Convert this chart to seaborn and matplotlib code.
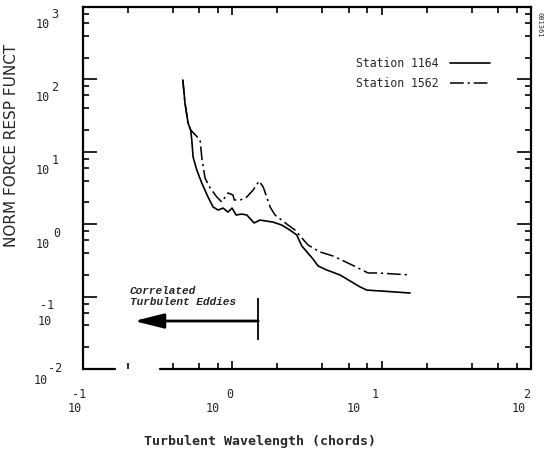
import numpy as np
import pandas as pd
import matplotlib
matplotlib.use('Agg')
import matplotlib.pyplot as plt
import seaborn as sns
from matplotlib.ticker import LogLocator, NullFormatter, FixedLocator

# data
wl_1164 = [0.466, 0.482, 0.505, 0.526, 0.535, 0.546, 0.578, 0.624, 0.687, 0.743,
           0.802, 0.867, 0.935, 0.995, 1.06, 1.156, 1.25, 1.40, 1.53, 1.87,
           2.14, 2.43, 2.70, 2.92, 3.47, 3.75, 4.29, 5.26, 7.17, 7.95, 10.2, 15.5]
resp_1164 = [98, 47.2, 25.0, 20.0, 14.6, 8.47, 5.61, 3.71, 2.38, 1.73,
             1.57, 1.67, 1.47, 1.67, 1.34, 1.38, 1.34, 1.04, 1.14, 1.07,
             0.975, 0.83, 0.71, 0.50, 0.33, 0.265, 0.233, 0.199, 0.136, 0.123, 0.119, 0.112]

wl_1562 = [0.466, 0.482, 0.505, 0.526, 0.608, 0.624, 0.656, 0.710, 0.787, 0.849,
           0.935, 1.01, 1.03, 1.13, 1.25, 1.38, 1.51, 1.61, 1.79, 1.93,
           2.14, 2.36, 2.63, 3.21, 3.87, 4.72, 6.34, 8.11, 9.46, 15.5]
resp_1562 = [98, 47.2, 25.0, 20.0, 14.6, 8.47, 4.35, 3.16, 2.38, 2.03,
             2.70, 2.53, 2.16, 2.16, 2.38, 2.97, 3.95, 3.26, 1.73, 1.34,
             1.14, 0.975, 0.83, 0.516, 0.413, 0.364, 0.273, 0.212, 0.212, 0.199]

x_exps = ['-1', '0', '1', '2']
y_exps = ['-2', '-1', '0', '1', '2', '3']

sns.set_style('ticks')
plt.rcParams['font.family'] = ['DejaVu Sans']

W, H = 548, 451
fig, ax = plt.subplots(figsize=(W / 100, H / 100), dpi=100)
fig.subplots_adjust(left=83 / W, right=531 / W, bottom=1 - 369 / H, top=1 - 7 / H)

sns.lineplot(x=wl_1164, y=resp_1164, ax=ax, color='black', lw=1.2,
             label='Station 1164', sort=False, estimator=None)
sns.lineplot(x=wl_1562, y=resp_1562, ax=ax, color='black', lw=1.1,
             linestyle=(0, (9, 2.5, 1.5, 2.5)),
             label='Station 1562', sort=False, estimator=None)

ax.set_xscale('log')
ax.set_yscale('log')
ax.set_xlim(0.1, 100)
ax.set_ylim(0.01, 1000)
for axis in (ax.xaxis, ax.yaxis):
    axis.set_major_locator(LogLocator(base=10, numticks=10))
    axis.set_minor_locator(LogLocator(base=10, subs=(2, 4, 6, 8), numticks=10))
    axis.set_major_formatter(NullFormatter())
    axis.set_minor_formatter(NullFormatter())
ax.set_xlabel('')
ax.set_ylabel('')

ax.tick_params(which='both', direction='in', top=True, right=True,
               color='black', width=1.2)
ax.tick_params(axis='y', which='major', length=10)
ax.tick_params(axis='y', which='minor', length=4)
ax.tick_params(axis='x', which='major', length=6)
ax.tick_params(axis='x', which='minor', length=4)

for side in ['left', 'right', 'top']:
    ax.spines[side].set_linewidth(1.6)
    ax.spines[side].set_color('black')
# bottom axis is broken near the left corner, no tick in the gap
ax.spines['bottom'].set_visible(False)
ax.axhline(0.01, 0, 0.071, color='black', lw=1.6, clip_on=False)
ax.axhline(0.01, 0.172, 1, color='black', lw=1.6, clip_on=False)
for t in ax.xaxis.get_minor_ticks():
    if abs(t.get_loc() - 0.2) < 1e-9:
        t.tick1line.set_visible(False)

# tick labels written like the old plotter: "10" with exponent above
mono = 'DejaVu Sans Mono'
y_lab_off = [(-42, -11, -28, 0), (-38, -25, -36, -9), (-40, -20, -26, -9),
             (-40, -19, -28, -9), (-40, -18, -28, -8), (-40, -17, -28, -7)]
for e, (tx, ty, ex, ey) in zip(y_exps, y_lab_off):
    v = 10.0 ** int(e)
    ax.annotate('10', xy=(0, v), xycoords=('axes fraction', 'data'),
                xytext=(tx, ty), textcoords='offset pixels',
                ha='center', va='center', fontsize=8.5, family=mono)
    ax.annotate(e, xy=(0, v), xycoords=('axes fraction', 'data'),
                xytext=(ex, ey), textcoords='offset pixels',
                ha='center', va='center', fontsize=8.5, family=mono)

x_lab_off = [(-8, -39, -4, -25), (-20, -39, -3, -25), (-28, -39, -6, -25), (-12, -39, -4, -25)]
for e, (tx, ty, ex, ey) in zip(x_exps, x_lab_off):
    v = 10.0 ** int(e)
    ax.annotate('10', xy=(v, 0), xycoords=('data', 'axes fraction'),
                xytext=(tx, ty), textcoords='offset pixels',
                ha='center', va='center', fontsize=8.5, family=mono)
    ax.annotate(e, xy=(v, 0), xycoords=('data', 'axes fraction'),
                xytext=(ex, ey), textcoords='offset pixels',
                ha='center', va='center', fontsize=8.5, family=mono)

fig.text(12 / W, 1 - 145 / H, 'NORM FORCE RESP FUNCT', rotation=90,
         ha='center', va='center', fontsize=11, family='DejaVu Sans')
fig.text(260 / W, 1 - 441 / H, 'Turbulent Wavelength (chords)',
         ha='center', va='center', fontsize=9.5, family=mono, weight='bold')
fig.text(540 / W, 1 - 25 / H, '001361', rotation=-90,
         ha='center', va='center', fontsize=5, family=mono)

# "correlated turbulent eddies" marker
ARROW_START, ARROW_END, ARROW_Y = 1.49, 0.22, 0.046
ax.vlines(ARROW_START, 0.025, 0.096, color='black', lw=1.3)
ax.annotate('', xy=(ARROW_END, ARROW_Y), xytext=(ARROW_START, ARROW_Y),
            arrowprops=dict(arrowstyle='-|>,head_length=1.8,head_width=0.45',
                            color='black', lw=2, shrinkA=0, shrinkB=0,
                            mutation_scale=10))
ax.text(0.206, 0.1, 'Correlated\nTurbulent Eddies', ha='left', va='center',
        fontsize=8, family='Liberation Mono', style='italic', weight='bold',
        linespacing=1.2)

leg = ax.legend(loc='upper right', bbox_to_anchor=((490 - 83) / 448, (369 - 57) / 362),
                frameon=False, markerfirst=False, borderpad=0, borderaxespad=0,
                handlelength=3.5, handletextpad=1.0, labelspacing=0.65,
                prop={'family': mono, 'size': 8.3})

plt.savefig('out.png', dpi=100)
plt.close()
